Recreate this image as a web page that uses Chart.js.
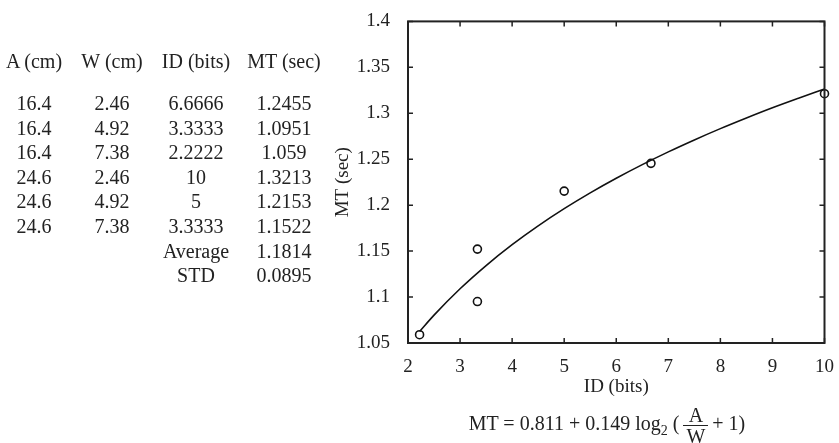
<!DOCTYPE html>
<html>
<head>
<meta charset="utf-8">
<script src="https://cdn.jsdelivr.net/npm/chart.js@4.4.1/dist/chart.umd.min.js"></script>
<style>
  html, body { margin: 0; padding: 0; background: #fff; }
  #wrap { position: relative; width: 839px; height: 443px; overflow: hidden;
          font-family: "Liberation Serif", "DejaVu Serif", serif; color: #222; }
  #chart { position: absolute; left: 0; top: 0; }
  .cell { position: absolute; width: 110px; text-align: center; font-size: 20px; line-height: 24px; white-space: nowrap; }
  #formula { position: absolute; left: 0; width: 1214px; top: 405px; text-align: center; font-size: 20px; white-space: nowrap; }
  .frac { display: inline-block; vertical-align: middle; text-align: center; margin: 0 4px; }
  .frac span { display: block; line-height: 20px; padding: 0 3px; }
  .frac .num { border-bottom: 1.5px solid #222; }
</style>
</head>
<body>
<div id="wrap">
  <canvas id="chart" width="839" height="443"></canvas>
  <div id="table"></div>
  <div id="formula">MT = 0.811 + 0.149 log<sub style="font-size:14px">2</sub> (<span class="frac"><span class="num">A</span><span>W</span></span>+ 1)</div>
</div>
<script>
// table columns
var headers = ['A (cm)', 'W (cm)', 'ID (bits)', 'MT (sec)'];
var colA  = ['16.4', '16.4', '16.4', '24.6', '24.6', '24.6'];
var colW  = ['2.46', '4.92', '7.38', '2.46', '4.92', '7.38'];
var colID = ['6.6666', '3.3333', '2.2222', '10', '5', '3.3333'];
var colMT = ['1.2455', '1.0951', '1.059', '1.3213', '1.2153', '1.1522'];
var statNames  = ['Average', 'STD'];
var statValues = ['1.1814', '0.0895'];

// measured points
var idBits = [6.6666, 3.3333, 2.2222, 10, 5, 3.3333];
var mtSec  = [1.2455, 1.0951, 1.059, 1.3213, 1.2153, 1.1522];

// fitted curve
var curveX = [2.2222, 2.5, 3, 3.5, 4, 4.5, 5, 5.5, 6, 6.5, 7, 7.5, 8, 8.5, 9, 9.5, 10];
var curveY = [1.0625, 1.0803, 1.109, 1.1343, 1.157, 1.1775, 1.1962, 1.2134, 1.2293,
              1.2441, 1.258, 1.271, 1.2833, 1.2949, 1.306, 1.3164, 1.3265];

// build the text table
var colCenters = [34, 112, 196, 284];
var tableEl = document.getElementById('table');
function addCell(text, col, yCenter) {
    var d = document.createElement('div');
    d.className = 'cell';
    d.textContent = text;
    d.style.left = (colCenters[col] - 55) + 'px';
    d.style.top = (yCenter - 12) + 'px';
    tableEl.appendChild(d);
}
headers.forEach(function(h, i) { addCell(h, i, 61); });
var rowGap = 24.6;
for (var r = 0; r < colA.length; r++) {
    var y = 103 + r * rowGap;
    addCell(colA[r], 0, y);
    addCell(colW[r], 1, y);
    addCell(colID[r], 2, y);
    addCell(colMT[r], 3, y);
}
statNames.forEach(function(s, i) {
    var y = 103 + (colA.length + i) * rowGap;
    addCell(s, 2, y);
    addCell(statValues[i], 3, y);
});

// box with inward ticks on all four sides
var boxTicks = {
    id: 'boxTicks',
    afterDatasetsDraw: function(chart) {
        var ctx = chart.ctx, a = chart.chartArea;
        var xs = chart.scales.x, ys = chart.scales.y;
        var len = 5;
        ctx.save();
        ctx.strokeStyle = '#222';
        ctx.lineWidth = 1.5;
        xs.ticks.forEach(function(t) {
            var px = xs.getPixelForValue(t.value);
            ctx.beginPath();
            ctx.moveTo(px, a.bottom); ctx.lineTo(px, a.bottom - len);
            ctx.moveTo(px, a.top); ctx.lineTo(px, a.top + len);
            ctx.stroke();
        });
        ys.ticks.forEach(function(t) {
            var py = ys.getPixelForValue(t.value);
            ctx.beginPath();
            ctx.moveTo(a.left, py); ctx.lineTo(a.left + len, py);
            ctx.moveTo(a.right, py); ctx.lineTo(a.right - len, py);
            ctx.stroke();
        });
        ctx.lineWidth = 2;
        ctx.strokeRect(a.left, a.top, a.right - a.left, a.bottom - a.top);
        ctx.restore();
    }
};

var tickFont = { family: '"Liberation Serif", serif', size: 19 };

new Chart(document.getElementById('chart').getContext('2d'), {
    type: 'scatter',
    data: {
        datasets: [{
            data: curveX.map(function(x, i) { return { x: x, y: curveY[i] }; }),
            showLine: true,
            borderColor: '#111',
            borderWidth: 1.6,
            pointRadius: 0,
            cubicInterpolationMode: 'monotone',
            clip: false
        }, {
            data: idBits.map(function(x, i) { return { x: x, y: mtSec[i] }; }),
            showLine: false,
            pointStyle: 'circle',
            pointRadius: 4,
            borderWidth: 1.6,
            borderColor: '#111',
            backgroundColor: 'rgba(0,0,0,0)',
            clip: false
        }]
    },
    options: {
        responsive: false,
        animation: false,
        layout: { padding: { left: 320, right: 11, top: 13, bottom: 0 } },
        plugins: { legend: { display: false }, tooltip: { enabled: false } },
        scales: {
            x: {
                type: 'linear', min: 2, max: 10,
                ticks: { stepSize: 1, color: '#222', font: tickFont, padding: 5 },
                grid: { display: false },
                border: { display: false },
                title: { display: true, text: 'ID (bits)', color: '#222', font: tickFont,
                         padding: { top: 0, bottom: 45 } },
                afterFit: function(s) { s.height = 100; }
            },
            y: {
                min: 1.05, max: 1.4,
                ticks: {
                    stepSize: 0.05, color: '#222', font: tickFont, padding: 10,
                    callback: function(v) { return String(Number(v.toFixed(2))); }
                },
                grid: { display: false },
                border: { display: false },
                title: { display: true, text: 'MT (sec)', color: '#222', font: tickFont,
                         padding: { top: 12, bottom: 0 } },
                afterFit: function(s) { s.width = 88; }
            }
        }
    },
    plugins: [boxTicks]
});
</script>
</body>
</html>
